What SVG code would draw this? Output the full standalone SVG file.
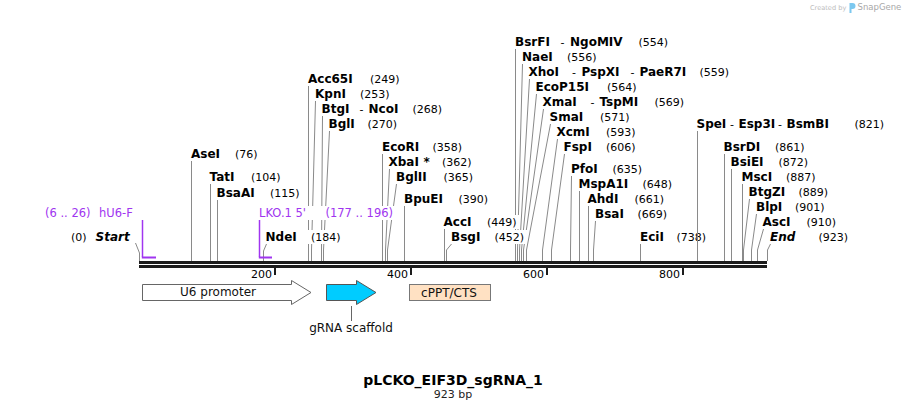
<svg xmlns="http://www.w3.org/2000/svg" width="907" height="411" viewBox="0 0 907 411">
<style>
text{font-family:"DejaVu Sans",Verdana,sans-serif}
.b{font-weight:bold;font-size:12px;fill:#000}
.bi{font-weight:bold;font-style:italic;font-size:12px;fill:#000}
.n{font-size:11px;fill:#000}
.p{font-size:11.5px;fill:#a035f0}
.ln{stroke:#8a8a8a;stroke-width:1;fill:none}
.bg{fill:#fff}
.pm{stroke:#a035f0;fill:none}
.ft{font-size:12px;fill:#111}
.tk{font-size:11px;fill:#000;text-anchor:end}
</style>
<rect width="907" height="411" fill="#fff"/>

<g id="credit">
<text x="810" y="9.5" style="font-size:6.6px;fill:#bdbdbd">Created by</text>
<path d="M849.5,3 h3 a3,3 0 0 1 0,6 h-1 v4 h-2 z" fill="#7cc8ef"/>
<text x="857.5" y="10" style="font-size:8.5px;fill:#a8a8a8">SnapGene</text>
</g>

<g id="connectors">
<path class="ln" d="M139.5,261 V253 L135.5,243"/>
<path class="ln" d="M191.5,261 V161"/>
<path class="ln" d="M210.5,261 V184"/>
<path class="ln" d="M217.5,261 V200"/>
<path class="ln" d="M263.5,261 V251 L266.5,244"/>
<path class="ln" d="M308.5,261 V86"/>
<path class="ln" d="M311.5,261 V250 L315.5,101"/>
<path class="ln" d="M321.5,261 V250 L322.5,116"/>
<path class="ln" d="M323.5,261 V250 L329.5,131"/>
<path class="ln" d="M382.5,261 V154"/>
<path class="ln" d="M385.5,261 V250 L389.5,169"/>
<path class="ln" d="M387.5,261 V250 L396.5,184"/>
<path class="ln" d="M404.5,261 V206"/>
<path class="ln" d="M444.5,261 V229"/>
<path class="ln" d="M446.5,261 V250 L451.5,244"/>
<path class="ln" d="M515.5,261 V49"/>
<path class="ln" d="M517.5,261 V250 L522.5,64"/>
<path class="ln" d="M519.5,261 V250 L529.5,79"/>
<path class="ln" d="M521.5,261 V250 L536.5,94"/>
<path class="ln" d="M523.5,261 V250 L543.5,109"/>
<path class="ln" d="M526.5,261 V250 L550.5,124"/>
<path class="ln" d="M542.5,261 V250 L557.5,139"/>
<path class="ln" d="M551.5,261 V250 L564.5,154"/>
<path class="ln" d="M570.5,261 V250 L571.5,176"/>
<path class="ln" d="M579.5,261 V191"/>
<path class="ln" d="M588.5,261 V206"/>
<path class="ln" d="M593.5,261 V250 L595.5,221"/>
<path class="ln" d="M640.5,261 V244"/>
<path class="ln" d="M724.5,261 V154"/>
<path class="ln" d="M731.5,261 V169"/>
<path class="ln" d="M742.5,261 V184"/>
<path class="ln" d="M743.5,261 V250 L749.5,199"/>
<path class="ln" d="M751.5,261 V250 L756.5,214"/>
<path class="ln" d="M757.5,261 V250 L763.5,229"/>
<path class="ln" d="M767.5,261 V250 L770.5,244"/>
<path class="ln" d="M351.5,306 V321" style="stroke:#666"/>
</g>

<g id="backbone">
<rect x="139" y="261" width="628" height="3" fill="#1c1c1c"/>
<rect x="139" y="265" width="628" height="3" fill="#1c1c1c"/>
<rect x="274" y="267" width="2" height="8" fill="#1c1c1c"/>
<rect x="410" y="267" width="2" height="8" fill="#1c1c1c"/>
<rect x="546" y="267" width="2" height="8" fill="#1c1c1c"/>
<rect x="682" y="267" width="2" height="8" fill="#1c1c1c"/>
<text class="tk" x="272" y="278">200</text>
<text class="tk" x="408" y="278">400</text>
<text class="tk" x="544" y="278">600</text>
<text class="tk" x="680" y="278">800</text>
</g>

<g id="primer-hU6-F">
<path class="pm" stroke-width="1.5" d="M142.5,220 V257"/>
<rect x="141.8" y="256.5" width="14.2" height="2" fill="#a035f0"/>
<text class="p" x="45" y="217">(6 .. 26)</text>
<text class="p" x="99" y="217">hU6-F</text>
</g>

<g id="primer-LKO1-5">
<path class="pm" stroke-width="1.5" d="M259.5,220 V257"/>
<rect x="258.8" y="256.5" width="13.2" height="2" fill="#a035f0"/>
<rect class="bg" x="258" y="206" width="137" height="14"/>
<text class="p" x="259" y="217">LKO.1 5'</text>
<text class="p" x="325.5" y="217">(177 .. 196)</text>
</g>

<g id="start"><text class="n" x="71" y="241">(0)</text><text class="bi" x="95.5" y="241">Start</text></g>
<g id="AseI"><text class="b" x="191" y="158">AseI</text><text class="n" x="235" y="158">(76)</text></g>
<g id="TatI"><text class="b" x="209.5" y="181">TatI</text><text class="n" x="251" y="181">(104)</text></g>
<g id="BsaAI"><text class="b" x="216.5" y="197">BsaAI</text><text class="n" x="270" y="197">(115)</text></g>
<g id="NdeI"><rect class="bg" x="265" y="230" width="78" height="14"/><text class="b" x="265.5" y="241">NdeI</text><text class="n" x="311" y="241">(184)</text></g>
<g id="Acc65I"><text class="b" x="308" y="83">Acc65I</text><text class="n" x="370" y="83">(249)</text></g>
<g id="KpnI"><text class="b" x="315" y="98">KpnI</text><text class="n" x="360" y="98">(253)</text></g>
<g id="BtgI-NcoI"><text class="b" x="321.5" y="113">BtgI</text><text class="n" x="359.5" y="113">-</text><text class="b" x="368.5" y="113">NcoI</text><text class="n" x="412.5" y="113">(268)</text></g>
<g id="BglI"><text class="b" x="328.5" y="128">BglI</text><text class="n" x="367.5" y="128">(270)</text></g>
<g id="EcoRI"><text class="b" x="382" y="151">EcoRI</text><text class="n" x="432.5" y="151">(358)</text></g>
<g id="XbaI"><text class="b" x="388.5" y="166">XbaI</text><text class="b" x="423.5" y="166">*</text><text class="n" x="442" y="166">(362)</text></g>
<g id="BglII"><text class="b" x="396" y="181">BglII</text><text class="n" x="443.5" y="181">(365)</text></g>
<g id="BpuEI"><text class="b" x="404" y="203">BpuEI</text><text class="n" x="458.5" y="203">(390)</text></g>
<g id="AccI"><rect class="bg" x="443" y="215" width="77" height="14"/><text class="b" x="443.5" y="226">AccI</text><text class="n" x="487" y="226">(449)</text></g>
<g id="BsgI"><rect class="bg" x="450" y="230" width="77" height="14"/><text class="b" x="451" y="241">BsgI</text><text class="n" x="494.5" y="241">(452)</text></g>
<g id="BsrFI-NgoMIV"><text class="b" x="515" y="46">BsrFI</text><text class="n" x="560.5" y="46">-</text><text class="b" x="570" y="46">NgoMIV</text><text class="n" x="638.5" y="46">(554)</text></g>
<g id="NaeI"><text class="b" x="522" y="61">NaeI</text><text class="n" x="567" y="61">(556)</text></g>
<g id="XhoI-PspXI-PaeR7I"><text class="b" x="528.5" y="76">XhoI</text><text class="n" x="572" y="76">-</text><text class="b" x="581.5" y="76">PspXI</text><text class="n" x="630.5" y="76">-</text><text class="b" x="639.5" y="76">PaeR7I</text><text class="n" x="699.5" y="76">(559)</text></g>
<g id="EcoP15I"><text class="b" x="535.5" y="91">EcoP15I</text><text class="n" x="607" y="91">(564)</text></g>
<g id="XmaI-TspMI"><text class="b" x="542.5" y="106">XmaI</text><text class="n" x="590.5" y="106">-</text><text class="b" x="599.5" y="106">TspMI</text><text class="n" x="654.5" y="106">(569)</text></g>
<g id="SmaI"><text class="b" x="549.5" y="121">SmaI</text><text class="n" x="600" y="121">(571)</text></g>
<g id="XcmI"><text class="b" x="556.5" y="136">XcmI</text><text class="n" x="606" y="136">(593)</text></g>
<g id="FspI"><text class="b" x="563.5" y="151">FspI</text><text class="n" x="606" y="151">(606)</text></g>
<g id="PfoI"><text class="b" x="571" y="173">PfoI</text><text class="n" x="612.5" y="173">(635)</text></g>
<g id="MspA1I"><text class="b" x="578.5" y="188">MspA1I</text><text class="n" x="642.5" y="188">(648)</text></g>
<g id="AhdI"><text class="b" x="587.5" y="203">AhdI</text><text class="n" x="634.5" y="203">(661)</text></g>
<g id="BsaI"><text class="b" x="595" y="218">BsaI</text><text class="n" x="637.5" y="218">(669)</text></g>
<g id="EciI"><text class="b" x="640" y="241">EciI</text><text class="n" x="676.5" y="241">(738)</text></g>
<g id="SpeI-Esp3I-BsmBI"><text class="b" x="696.5" y="128">SpeI</text><text class="n" x="730" y="128">-</text><text class="b" x="738.5" y="128">Esp3I</text><text class="n" x="778" y="128">-</text><text class="b" x="786.5" y="128">BsmBI</text><text class="n" x="854.5" y="128">(821)</text></g>
<g id="BsrDI"><text class="b" x="723.5" y="151">BsrDI</text><text class="n" x="775" y="151">(861)</text></g>
<g id="BsiEI"><text class="b" x="730.5" y="166">BsiEI</text><text class="n" x="778.5" y="166">(872)</text></g>
<g id="MscI"><text class="b" x="741.5" y="181">MscI</text><text class="n" x="786" y="181">(887)</text></g>
<g id="BtgZI"><text class="b" x="748.5" y="196">BtgZI</text><text class="n" x="798.5" y="196">(889)</text></g>
<g id="BlpI"><text class="b" x="756" y="211">BlpI</text><text class="n" x="795" y="211">(901)</text></g>
<g id="AscI"><text class="b" x="762.5" y="226">AscI</text><text class="n" x="806.5" y="226">(910)</text></g>
<g id="end"><text class="bi" x="770" y="241">End</text><text class="n" x="818.5" y="241">(923)</text></g>
<path class="ln" d="M697.5,261 V131"/>

<g id="U6-promoter">
<path d="M142.5,284.5 H291.5 V280.5 L311,292.5 L291.5,304.5 V300.5 H142.5 Z" fill="#fff" stroke="#666"/>
<text class="ft" x="218" y="296" text-anchor="middle">U6 promoter</text>
</g>
<g id="gRNA-scaffold">
<path d="M326.5,284.5 H356.5 V280.5 L376,292.5 L356.5,304.5 V300.5 H326.5 Z" fill="#00ccff" stroke="#555"/>
<text class="ft" x="351" y="332" text-anchor="middle">gRNA scaffold</text>
</g>
<g id="cPPT-CTS">
<rect x="409.5" y="284.5" width="81" height="16" fill="#ffe1c3" stroke="#777"/>
<text class="ft" x="449" y="297" text-anchor="middle">cPPT/CTS</text>
</g>

<g id="title">
<text x="453" y="385" text-anchor="middle" style="font-weight:bold;font-size:14px;fill:#000">pLCKO_EIF3D_sgRNA_1</text>
<text x="453" y="397.5" text-anchor="middle" style="font-size:11px;fill:#222">923 bp</text>
</g>
</svg>
